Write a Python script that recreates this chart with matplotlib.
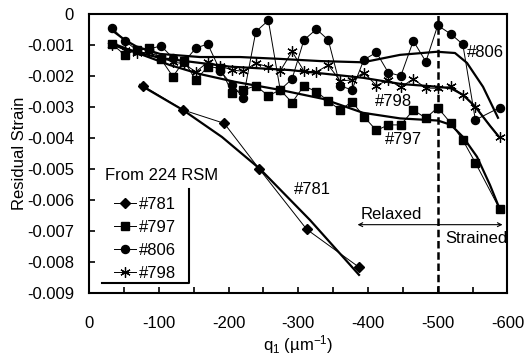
import numpy as np
import matplotlib
matplotlib.use("Agg")
import matplotlib.pyplot as plt

plt.rcParams["font.family"] = ["Liberation Sans", "DejaVu Sans"]
plt.rcParams["font.size"] = 12
plt.rcParams["mathtext.default"] = "regular"

# sample #781 (diamonds) and its fit
q_781 = [-77.5, -134.9, -193.7, -243.5, -312.0, -387.5]
s_781 = [-0.00232, -0.0031, -0.00353, -0.00499, -0.00695, -0.00818]
q_781_fit = [-72.8, -134.5, -190.4, -244.9, -316.7, -387.1]
s_781_fit = [-0.00229, -0.0031, -0.00397, -0.0050, -0.00665, -0.00842]

# common q grid of the other three samples
q_grid = [-33, -51, -68, -86, -103, -120, -136, -153, -170, -188, -205,
          -221, -239, -257, -274, -291, -308, -326, -343, -360, -377, -394,
          -412, -429, -447, -465, -483, -500, -519, -536, -554, -589]

s_797 = [-0.00098, -0.00132, -0.00116, -0.00109, -0.00146, -0.00202,
         -0.00152, -0.00213, -0.0017, -0.00175, -0.00254, -0.00245,
         -0.00232, -0.00264, -0.00245, -0.00286, -0.00232, -0.00251,
         -0.00281, -0.0031, -0.00283, -0.00331, -0.00376, -0.00358,
         -0.00358, -0.0031, -0.00336, -0.00302, -0.00353, -0.00407,
         -0.0048, -0.0063]
s_806 = [-0.00045, -0.00087, -0.00116, -0.00113, -0.00103, -0.00142,
         -0.00155, -0.0011, -0.00097, -0.00184, -0.00229, -0.0027,
         -0.00057, -0.00021, -0.00245, -0.0021, -0.00084, -0.00049,
         -0.00084, -0.00232, -0.00245, -0.00148, -0.00124, -0.00189,
         -0.002, -0.00087, -0.00154, -0.00037, -0.00065, -0.00098,
         -0.00342, -0.00302]
s_798 = [-0.0010, -0.00116, -0.00126, -0.00123, -0.00142, -0.00155,
         -0.00161, -0.00187, -0.00155, -0.00168, -0.00181, -0.00185,
         -0.00159, -0.00171, -0.00184, -0.00121, -0.00184, -0.00187,
         -0.00165, -0.00216, -0.00213, -0.00189, -0.00231, -0.00213,
         -0.00236, -0.0021, -0.00239, -0.0024, -0.00234, -0.00261,
         -0.00301, -0.00398]

# fitted trend curves
q_806_fit = [-34, -51.2, -68.5, -101.5, -158.9, -216.3, -273.7, -331.1,
             -392.8, -445.9, -499, -524.8, -542, -565, -586.5]
s_806_fit = [-0.00055, -0.00084, -0.00106, -0.00129, -0.00139, -0.00139,
             -0.00145, -0.00152, -0.00156, -0.00132, -0.00122, -0.00126,
             -0.00158, -0.00235, -0.00335]
q_798_fit = [-34, -68.5, -101.5, -158.9, -201.9, -288, -392.8, -447.3,
             -500.4, -519.1, -536.3, -553.5, -575, -588]
s_798_fit = [-0.0010, -0.00123, -0.00142, -0.00158, -0.0017, -0.00181,
             -0.00206, -0.00226, -0.00235, -0.0024, -0.00261, -0.00298,
             -0.00361, -0.00397]
q_797_fit = [-32.6, -72.8, -115.8, -158.9, -209.1, -273.7, -335.4, -392.8,
             -445.9, -500.4, -519.1, -536.3, -556.4, -575, -589.4]
s_797_fit = [-0.00094, -0.00129, -0.00165, -0.00194, -0.00219, -0.00245,
             -0.00274, -0.00319, -0.00337, -0.00344, -0.00358, -0.00397,
             -0.00461, -0.00552, -0.00632]

x_ticks = [0, -100, -200, -300, -400, -500, -600]
y_ticks = [0, -0.001, -0.002, -0.003, -0.004, -0.005, -0.006, -0.007, -0.008, -0.009]

fig = plt.figure(figsize=(5.25, 3.58), dpi=100)
axis = fig.add_axes([0.170, 0.182, 0.7965, 0.779])

thin = dict(color="black", lw=0.7)
h781, = axis.plot(q_781, s_781, marker="D", ms=4.8, label="#781", **thin)
h797, = axis.plot(q_grid, s_797, marker="s", ms=5.3, label="#797", **thin)
h806, = axis.plot(q_grid, s_806, marker="o", ms=5.8, label="#806", **thin)
h798, = axis.plot(q_grid, s_798, marker=(6, 2, 0), ms=7.5, mew=0.9,
                  label="#798", **thin)

for qf, sf in [(q_781_fit, s_781_fit), (q_806_fit, s_806_fit),
               (q_798_fit, s_798_fit), (q_797_fit, s_797_fit)]:
    axis.plot(qf, sf, color="black", lw=1.6)

# relaxed / strained boundary
axis.axvline(-500, color="black", lw=1.8, ls=(0, (3, 1.5)))
axis.annotate("", xy=(-385, -0.0068), xytext=(-593, -0.0068),
              arrowprops=dict(arrowstyle="<->", lw=0.8, color="black",
                              mutation_scale=7, shrinkA=0, shrinkB=0))
axis.text(-434, -0.00647, "Relaxed", ha="center", va="center")
axis.text(-555, -0.00725, "Strained", ha="center", va="center")

axis.text(-569, -0.00123, "#806", ha="center", va="center")
axis.text(-437, -0.00283, "#798", ha="center", va="center")
axis.text(-451, -0.00406, "#797", ha="center", va="center")
axis.text(-320, -0.00566, "#781", ha="center", va="center")

# legend block
axis.text(0.038, 0.421, "From 224 RSM", transform=axis.transAxes,
          ha="left", va="center")
axis.legend(handles=[h781, h797, h806, h798], loc="upper left",
            bbox_to_anchor=(0.06, 0.345), frameon=False, borderpad=0,
            borderaxespad=0, handlelength=1.3, handletextpad=0.2,
            labelspacing=0.49)
axis.plot([0.239, 0.239, 0.030], [0.373, 0.036, 0.036], color="black",
          lw=1.5, transform=axis.transAxes, clip_on=False)

axis.set_xlim(0, -600)
axis.set_ylim(-0.009, 0)
axis.set_xticks(x_ticks)
axis.set_xticks(np.arange(0, -601, -50), minor=True)
axis.set_xticklabels([str(v) for v in x_ticks])
axis.set_yticks(y_ticks)
axis.set_yticklabels(["0"] + ["%.3f" % v for v in y_ticks[1:]])
axis.tick_params(axis="both", which="both", direction="in", length=4,
                 width=1.2, top=False, right=False)
axis.tick_params(axis="x", pad=17)
axis.tick_params(axis="y", pad=11)
for sp in axis.spines.values():
    sp.set_linewidth(1.5)

axis.set_xlabel("q$_1$ (µm$^{-1}$)", labelpad=1)
axis.set_ylabel("Residual Strain", labelpad=0)

fig.savefig("out.png", dpi=100)
